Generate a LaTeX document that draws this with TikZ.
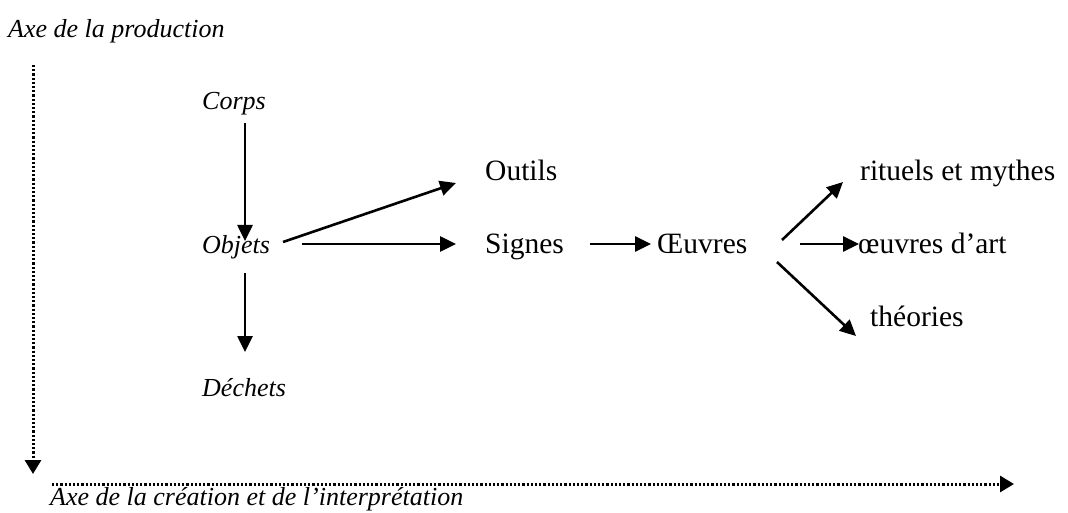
\documentclass[tikz,border=0pt]{standalone}
\usepackage{fontspec}
\setmainfont{Liberation Serif}
\usetikzlibrary{arrows.meta,calc}
\begin{document}
\begin{tikzpicture}[x=1pt,y=-1pt,
  lbl/.style={inner sep=0pt, anchor=base west, font=\fontsize{29.5}{32}\selectfont},
  ilbl/.style={inner sep=0pt, anchor=base west, font=\fontsize{26}{30}\selectfont\itshape},
  arr/.style={line width=2.6pt, -{Triangle[length=16pt,width=15pt]}},
  axisarr/.style={line width=3pt, dash pattern=on 2.2pt off 2pt, -{Triangle[length=14pt,width=16pt]}}]
\useasboundingbox (0,0) rectangle (1068,513);
\node[ilbl] (axp) at (8,38) {Axe de la production};
\node[ilbl] (axc) at (50,505) {Axe de la création et de l’interprétation};
\node[ilbl] (corps) at (202,110) {Corps};
\node[ilbl] (objets) at (202,253) {Objets};
\node[ilbl] (dechets) at (202,396) {Déchets};
\node[lbl] (outils) at (485,181) {Outils};
\node[lbl] (signes) at (485,253) {Signes};
\node[lbl] (oeuvres) at (657,253) {Œuvres};
\node[lbl] (rituels) at (860,181) {rituels et mythes};
\node[lbl] (art) at (858,253) {œuvres d’art};
\node[lbl] (theories) at (870,326) {théories};
\coordinate (vend) at (33,474);
\coordinate (hend) at (1014,484);
\draw[axisarr] ($(axp.base west)+(25,27)$) -- (vend);
\draw[axisarr] ($(axc.base west)+(2,-21)$) -- (hend);
\draw[arr] ($(corps.base west)+(43,13)$) -- ($(objets.base west)+(43,-12)$);
\draw[arr] ($(objets.base west)+(43,20)$) -- ($(dechets.base west)+(43,-44)$);
\draw[arr] ($(objets.base west)+(81,-11)$) -- ($(outils.base west)+(-29,2)$);
\draw[arr] ($(objets.base west)+(100,-9)$) -- ($(signes.base west)+(-29,-9)$);
\draw[arr] ($(signes.base west)+(105,-9)$) -- ($(oeuvres.base west)+(-6,-9)$);
\draw[arr] ($(oeuvres.base west)+(125,-13)$) -- ($(rituels.base west)+(-17,1)$);
\draw[arr] ($(oeuvres.base west)+(143,-9)$) -- ($(art.base west)+(1,-9)$);
\draw[arr] ($(oeuvres.base west)+(120,9)$) -- ($(theories.base west)+(-14,10)$);
\end{tikzpicture}
\end{document}
